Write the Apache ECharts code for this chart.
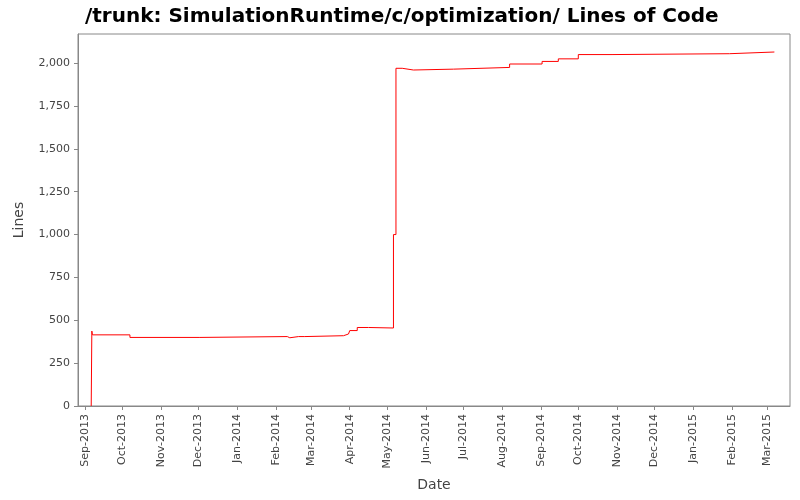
<!DOCTYPE html>
<html><head><meta charset="utf-8">
<script src="https://cdn.jsdelivr.net/npm/echarts@6/dist/echarts.min.js"></script>
<style>html,body{margin:0;padding:0;background:#fff}#c{width:800px;height:500px}</style>
</head><body><div id="c"></div>
<script>
const dates = ['2013-09-06','2013-09-06T12:00','2013-09-07','2013-10-07','2013-12-02','2014-02-10','2014-02-12','2014-02-19','2014-02-20','2014-02-24','2014-03-27','2014-03-31','2014-04-01','2014-04-07','2014-04-16','2014-05-06','2014-05-08','2014-05-13','2014-05-22','2014-06-23','2014-08-07','2014-09-02','2014-09-15','2014-10-01','2014-10-28','2015-01-30','2015-03-07'];
const lines = [0,437,415,400,405,398,405,408,405,410,420,410,440,458,455,1000,1970,1960,1965,1975,1995,2010,2025,2050,2055,2065,2065];
const months = ['Jan','Feb','Mar','Apr','May','Jun','Jul','Aug','Sep','Oct','Nov','Dec'];
const data = dates.map((d,i)=>[d,lines[i]]);
const chart = echarts.init(document.getElementById('c'));
chart.setOption({
  animation:false,
  title:{text:'/trunk: SimulationRuntime/c/optimization/ Lines of Code',left:80,top:2,
    textStyle:{fontFamily:'DejaVu Sans',fontSize:20,fontWeight:'bold',color:'#000'}},
  grid:{left:78,right:10,top:34,bottom:94,show:true,borderColor:'#888',borderWidth:1,backgroundColor:'#fff'},
  xAxis:{type:'time',min:'2013-08-26T10:00',max:'2015-03-19T12:00',
    minInterval:28*86400000,maxInterval:31*86400000,
    name:'Date',nameLocation:'middle',nameGap:72,
    nameTextStyle:{fontFamily:'DejaVu Sans',fontSize:14,color:'#444'},
    axisLine:{show:true,lineStyle:{color:'#888'}},
    axisTick:{show:true,length:4,lineStyle:{color:'#888'}},
    splitLine:{show:false},
    axisLabel:{rotate:90,fontFamily:'DejaVu Sans',fontSize:11,color:'#444',hideOverlap:false,
      formatter:v=>{const d=new Date(v);return months[d.getMonth()]+'-'+d.getFullYear();}}},
  yAxis:{type:'value',min:0,max:2170,interval:250,
    name:'Lines',nameLocation:'middle',nameGap:52,
    nameTextStyle:{fontFamily:'DejaVu Sans',fontSize:14,color:'#444'},
    axisLine:{show:true,lineStyle:{color:'#888'}},
    axisTick:{show:true,length:4,lineStyle:{color:'#888'}},
    splitLine:{show:false},
    axisLabel:{fontFamily:'DejaVu Sans',fontSize:11,color:'#444',showMaxLabel:false,
      formatter:v=>v.toLocaleString('en-US')}},
  series:[{type:'line',step:'end',data:data,showSymbol:false,
    lineStyle:{color:'#ff0000',width:1}}]
});
</script></body></html>
